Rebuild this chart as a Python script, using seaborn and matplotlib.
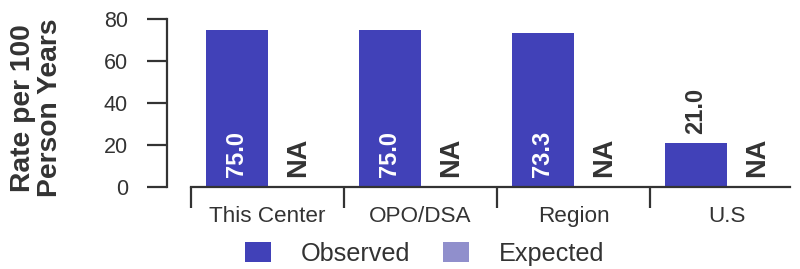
import numpy as np
import pandas as pd
import matplotlib
matplotlib.use("Agg")
import matplotlib.pyplot as plt
import seaborn as sns

# data
categories = ["This Center", "OPO/DSA", "Region", "U.S"]
observed = [75.0, 75.0, 73.3, 21.0]
expected = [np.nan, np.nan, np.nan, np.nan]
series = ["Observed", "Expected"]
colors = ["#4141b8", "#908fcc"]

df = pd.DataFrame({
    "category": categories * 2,
    "series": ["Observed"] * 4 + ["Expected"] * 4,
    "value": observed + expected,
})
# missing values are drawn as empty bars so they keep their slot
df["plot_value"] = df["value"].fillna(0)

sns.set_style("white")
plt.rcParams["font.family"] = ["Liberation Sans", "DejaVu Sans"]
dark = "#333333"

fig = plt.figure(figsize=(8, 2.69), dpi=100)
ax = fig.add_axes([191 / 800, 1 - 187 / 269, (790 - 191) / 800, (187 - 19) / 269])

sns.barplot(data=df, x="category", y="plot_value", hue="series", hue_order=series,
            order=categories, palette=colors, errorbar=None, saturation=1,
            width=0.81, linewidth=0, ax=ax)

ax.set_xlabel("")
ax.set_ylabel("")

# axes styling
sns.despine(ax=ax)
ax.spines["left"].set_position(("outward", 17))
for s in ["left", "bottom"]:
    ax.spines[s].set_color(dark)
    ax.spines[s].set_linewidth(1.6)

ax.set_yticks([0, 20, 40, 60, 80])
ax.tick_params(axis="y", length=14.5, width=1.6, color=dark, pad=14,
               labelsize=15.5, labelcolor=dark, left=True)

ax.set_xticks([-0.5, 0.5, 1.5, 2.5, 3.5])
ax.set_xticklabels([])
ax.set_xticks(range(len(categories)), minor=True)
ax.set_xticklabels(categories, minor=True)
ax.tick_params(axis="x", which="major", length=15, width=1.6, color=dark, bottom=True)
ax.tick_params(axis="x", which="minor", length=0, pad=13.5, labelsize=16.2,
               labelcolor=dark)

ax.set_ylim(0, 80)
ax.set_xlim(-0.5, 3.415)

# value labels
values = {"Observed": observed, "Expected": expected}
for name, cont in zip(series, ax.containers):
    for bar, v in zip(cont, values[name]):
        xc = bar.get_x() + bar.get_width() / 2
        if np.isnan(v):
            ax.annotate("NA", (xc, 0), xytext=(0, 7), textcoords="offset points",
                        rotation=90, ha="center", va="bottom", fontsize=19.5,
                        fontweight="bold", color=dark)
        elif v > 30:
            ax.annotate(f"{v:.1f}", (xc, 0), xytext=(0, 7), textcoords="offset points",
                        rotation=90, ha="center", va="bottom", fontsize=17,
                        fontweight="bold", color="white")
        else:
            ax.annotate(f"{v:.1f}", (xc, v), xytext=(0, 6.5), textcoords="offset points",
                        rotation=90, ha="center", va="bottom", fontsize=17,
                        fontweight="bold", color=dark)

fig.text(37 / 800, 1 - 108 / 269, "Rate per 100\nPerson Years", rotation=90,
         ha="center", va="center", multialignment="center", fontsize=20.3,
         fontweight="bold", color=dark, linespacing=1.05)

handles, labels = ax.get_legend_handles_labels()
ax.get_legend().remove()
fig.legend(handles, labels, loc="center", bbox_to_anchor=(425 / 800, 1 - 254 / 269),
           ncol=2, frameon=False, fontsize=18.2, handlelength=1.0,
           handleheight=0.85, handletextpad=1.2, columnspacing=1.3,
           labelcolor=dark)

fig.savefig("out.png", dpi=100)
